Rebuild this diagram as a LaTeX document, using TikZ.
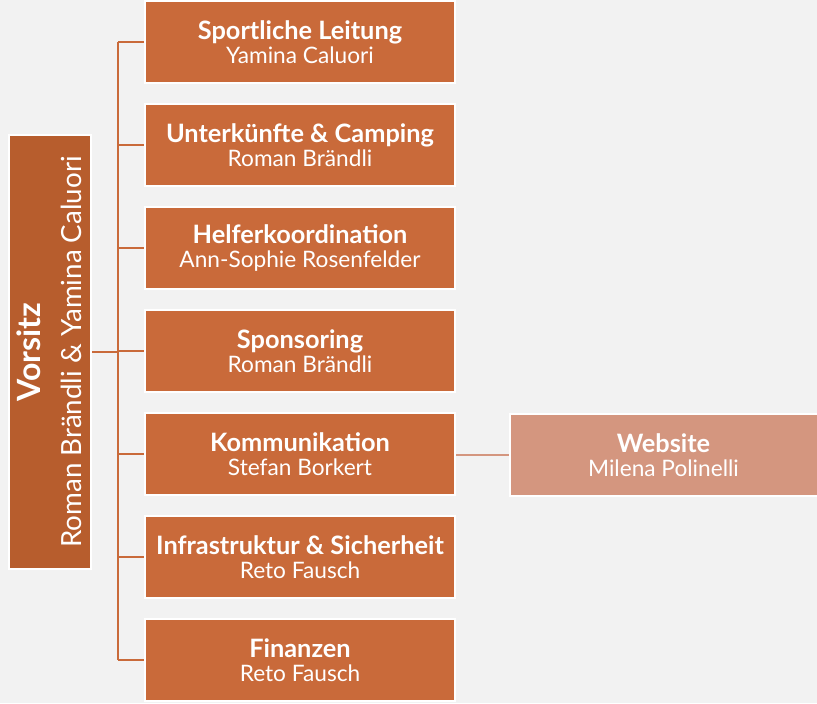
\documentclass[tikz,border=0pt]{standalone}
\usepackage{fontspec}
\setmainfont{Lato}
\definecolor{bg}{HTML}{F2F2F2}
\definecolor{org}{HTML}{C96A3A}
\definecolor{orgdark}{HTML}{B75D2D}
\definecolor{orglight}{HTML}{D4967F}
\newcommand{\ttl}[1]{{\fontsize{19}{18}\selectfont\bfseries #1}}
\begin{document}
\begin{tikzpicture}[x=0.75pt,y=-0.75pt,
  box/.style={draw=white,line width=1.5pt,fill=org,minimum width=232.5pt,minimum height=61.5pt,inner sep=0pt,align=center,text=white,font=\fontsize{17}{18}\selectfont},
  link/.style={draw=org,line width=2.2pt}]
\fill[bg] (0,0) rectangle (817,703);
\useasboundingbox (0,0) rectangle (817,703);
\node[draw=white,line width=1.5pt,fill=orgdark,minimum width=62pt,minimum height=326pt,inner sep=0pt] (v) at (50,352) {};
\node[rotate=90,align=center,text=white,font=\fontsize{20.8}{31}\selectfont] (vt) at (49,352) {{\fontsize{24}{31}\selectfont\bfseries Vorsitz}\\Roman Brändli \& Yamina Caluori};
\node[box] (b1) at (300,42) {\ttl{Sportliche Leitung}\\Yamina Caluori};
\node[box] (b2) at (300,145) {\ttl{Unterkünfte \& Camping}\\Roman Brändli};
\node[box] (b3) at (300,248) {\ttl{Helferkoordination}\\Ann-Sophie Rosenfelder};
\node[box] (b4) at (300,351) {\ttl{Sponsoring}\\Roman Brändli};
\node[box] (b5) at (300,454) {\ttl{Kommunikation}\\Stefan Borkert};
\node[box] (b6) at (300,557) {\ttl{Infrastruktur \& Sicherheit}\\Reto Fausch};
\node[box] (b7) at (300,660) {\ttl{Finanzen}\\Reto Fausch};
\node[box,fill=orglight,minimum width=231pt] (w) at (663.5,455) {\ttl{Website}\\Milena Polinelli};
\coordinate (t) at (118,42);
\coordinate (bt) at (118,660);
\draw[link] (t) -- (bt);
\draw[link] (v.east |- 0,352) -- (118,352);
\foreach \i in {1,...,7}{\draw[link] (118,0 |- b\i.west) -- (b\i.west);}
\draw[draw=orglight,line width=1.6pt] (b5.east |- w.west) -- (w.west);
\end{tikzpicture}
\end{document}
